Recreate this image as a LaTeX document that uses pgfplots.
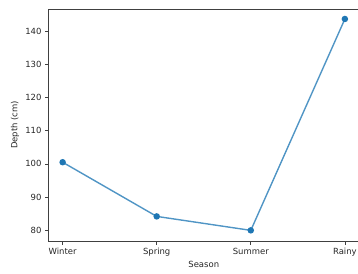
\documentclass[border=0pt]{standalone}
\usepackage{pgfplots}
\pgfplotsset{compat=1.18}
\usepackage{fontspec}
\setmainfont{DejaVu Sans}
\definecolor{mplblue}{HTML}{1F77B4}
\begin{document}
\begin{tikzpicture}[x=1bp,y=1bp]
\begin{axis}[
  at={(48.5bp,33bp)}, anchor=south west,
  scale only axis, width=310.5bp, height=232bp,
  xmin=-0.15, xmax=3.15, ymin=76.8, ymax=146.6,
  xtick={0,1,2,3}, xticklabels={Winter,Spring,Summer,Rainy},
  ytick={80,90,100,110,120,130,140},
  tick align=outside, tick pos=left, major tick length=3.5bp,
  axis line style={black!75, line width=0.6bp},
  every tick/.style={black!75, line width=0.6bp},
  tick label style={font=\fontsize{8.5}{10}\selectfont, text=black!85},
  label style={font=\fontsize{8.5}{10}\selectfont, text=black!85},
  /pgf/number format/assume math mode=true,
  xlabel={Season}, ylabel={Depth (cm)},
  xlabel style={at={(axis description cs:0.5,-0.1)}, anchor=center},
  ylabel style={at={(axis description cs:-0.108,0.5)}, anchor=center, rotate=0},
  clip=false,
]
\addplot[mplblue!78!white, line width=1.4bp, mark=*, mark size=2.5bp,
  mark options={fill=mplblue, draw=mplblue, opacity=1}]
  coordinates {(0,100.5) (1,84.2) (2,80.0) (3,143.6)};
\end{axis}
\pgfresetboundingbox
\useasboundingbox (0,0) rectangle (358,274);
\end{tikzpicture}
\end{document}
